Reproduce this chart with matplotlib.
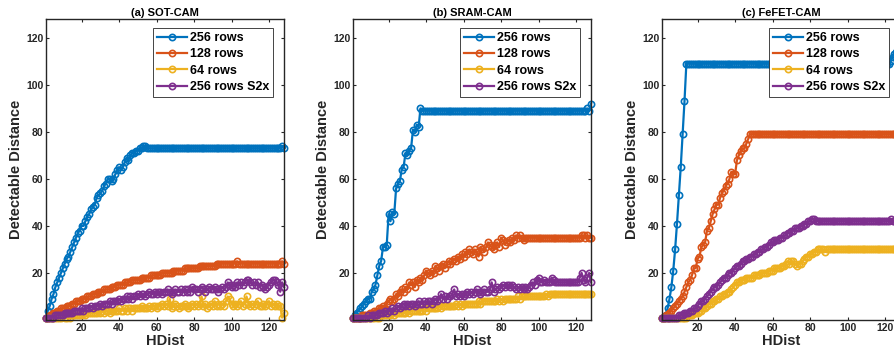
import matplotlib
matplotlib.use('Agg')
import matplotlib.pyplot as plt

# ---------------- data ----------------
hdist = list(range(1, 129))
series_labels = ['256 rows', '128 rows', '64 rows', '256 rows S2x']
panel_titles = ['(a) SOT-CAM', '(b) SRAM-CAM', '(c) FeFET-CAM']
x_ticks = [20, 40, 60, 80, 100, 120]
y_ticks = [20, 40, 60, 80, 100, 120]

# (a) SOT-CAM
sot_256 = [1, 4, 6, 9, 11, 14, 16, 18, 20, 22, 24, 26, 27, 29, 31, 33,
           35, 37, 38, 40, 40, 42, 44, 45, 47, 48, 49, 52, 53, 54, 55, 57,
           58, 60, 60, 59, 60, 62, 64, 65, 64, 65, 67, 69, 68, 70, 71, 71,
           72, 72, 73, 73, 74, 74, 73, 73, 73, 73, 73, 73, 73, 73, 73, 73,
           73, 73, 73, 73, 73, 73, 73, 73, 73, 73, 73, 73, 73, 73, 73, 73,
           73, 73, 73, 73, 73, 73, 73, 73, 73, 73, 73, 73, 73, 73, 73, 73,
           73, 73, 73, 73, 73, 73, 73, 73, 73, 73, 73, 73, 73, 73, 73, 73,
           73, 73, 73, 73, 73, 73, 73, 73, 73, 73, 73, 73, 73, 73, 74, 73]
sot_128 = [1, 1, 2, 2, 3, 3, 4, 4, 5, 5, 5, 6, 6, 6, 7, 7,
           8, 8, 8, 9, 9, 9, 10, 10, 10, 11, 11, 11, 12, 12, 12, 13,
           13, 13, 13, 14, 14, 14, 15, 15, 15, 15, 16, 16, 16, 16, 17, 17,
           17, 17, 17, 18, 18, 18, 18, 18, 19, 19, 19, 19, 19, 19, 20, 20,
           20, 20, 20, 20, 21, 21, 21, 21, 21, 21, 22, 22, 22, 22, 22, 22,
           22, 22, 23, 23, 23, 23, 23, 23, 23, 23, 23, 24, 24, 24, 24, 24,
           24, 24, 24, 24, 24, 24, 25, 24, 24, 24, 24, 24, 24, 24, 24, 24,
           24, 24, 24, 24, 24, 24, 24, 24, 24, 24, 24, 24, 24, 24, 25, 24]
sot_64 = [1, 1, 1, 1, 1, 1, 1, 1, 1, 2, 1, 1, 2, 1, 2, 2,
          2, 2, 2, 2, 3, 2, 3, 3, 3, 3, 3, 3, 4, 3, 4, 3,
          4, 4, 3, 4, 4, 4, 4, 5, 4, 4, 5, 4, 5, 5, 4, 5,
          5, 5, 5, 6, 5, 5, 5, 6, 5, 6, 6, 5, 6, 6, 7, 6,
          7, 6, 9, 5, 6, 7, 6, 5, 6, 6, 7, 6, 5, 6, 7, 6,
          7, 6, 7, 10, 6, 7, 5, 6, 7, 6, 8, 6, 7, 6, 7, 6,
          8, 10, 9, 7, 6, 7, 6, 7, 8, 6, 7, 10, 7, 6, 7, 6,
          7, 8, 6, 6, 7, 6, 7, 8, 6, 7, 6, 7, 6, 6, 1, 3]
sot_s2x = [1, 1, 1, 1, 1, 2, 2, 2, 2, 2, 3, 3, 3, 3, 3, 4,
           4, 4, 4, 5, 4, 5, 5, 5, 6, 5, 6, 6, 6, 7, 6, 7,
           7, 7, 8, 7, 8, 8, 8, 9, 8, 9, 9, 10, 9, 10, 9, 10,
           10, 11, 10, 11, 11, 10, 11, 12, 11, 11, 12, 11, 12, 12, 11, 12,
           12, 13, 12, 11, 12, 13, 12, 12, 13, 12, 13, 12, 13, 12, 14, 13,
           13, 12, 13, 14, 13, 12, 13, 14, 13, 13, 14, 13, 12, 13, 14, 13,
           14, 16, 15, 14, 15, 14, 16, 15, 16, 15, 16, 17, 17, 16, 15, 16,
           15, 16, 14, 15, 14, 13, 14, 15, 16, 17, 17, 16, 15, 12, 16, 14]

# (b) SRAM-CAM
sram_256 = [1, 2, 3, 4, 5, 6, 7, 8, 9, 9, 12, 13, 15, 19, 23, 25,
            31, 31, 32, 45, 42, 46, 45, 56, 58, 59, 64, 65, 71, 70, 72, 73,
            81, 80, 83, 82, 90, 89, 89, 89, 89, 89, 89, 89, 89, 89, 89, 89,
            89, 89, 89, 89, 89, 89, 89, 89, 89, 89, 89, 89, 89, 89, 89, 89,
            89, 89, 89, 89, 89, 89, 89, 89, 89, 89, 89, 89, 89, 89, 89, 89,
            89, 89, 89, 89, 89, 89, 89, 89, 89, 89, 89, 89, 89, 89, 89, 89,
            89, 89, 89, 89, 89, 89, 89, 89, 89, 89, 89, 89, 89, 89, 89, 89,
            89, 89, 89, 89, 89, 89, 89, 89, 89, 89, 89, 89, 89, 90, 89, 92]
sram_128 = [1, 1, 1, 1, 1, 2, 2, 2, 2, 3, 3, 4, 3, 4, 5, 5,
            6, 5, 7, 8, 9, 8, 9, 11, 10, 12, 13, 12, 14, 13, 16, 15,
            16, 14, 17, 16, 18, 17, 19, 21, 20, 19, 21, 20, 23, 22, 21, 23,
            24, 22, 24, 25, 24, 25, 26, 25, 27, 26, 28, 27, 29, 28, 30, 29,
            28, 30, 29, 27, 31, 30, 29, 31, 33, 32, 31, 30, 32, 33, 31, 35,
            34, 32, 33, 34, 33, 35, 34, 36, 35, 36, 35, 34, 35, 35, 35, 35,
            35, 35, 35, 35, 35, 35, 35, 35, 35, 35, 35, 35, 35, 35, 35, 35,
            35, 35, 35, 35, 35, 35, 35, 35, 35, 35, 36, 36, 35, 36, 35, 35]
sram_64 = [1, 1, 1, 1, 1, 1, 1, 1, 1, 1, 1, 1, 2, 1, 1, 2,
           2, 2, 2, 2, 2, 3, 2, 3, 3, 3, 3, 3, 3, 4, 3, 4,
           4, 4, 4, 4, 4, 4, 5, 4, 5, 5, 5, 5, 5, 5, 6, 5,
           6, 6, 6, 6, 6, 6, 6, 7, 6, 7, 6, 7, 7, 7, 7, 7,
           7, 7, 7, 8, 7, 8, 8, 8, 8, 8, 8, 8, 8, 9, 8, 9,
           8, 9, 9, 9, 9, 9, 9, 9, 10, 9, 10, 10, 10, 10, 10, 10,
           10, 10, 10, 10, 10, 10, 10, 11, 10, 11, 11, 11, 11, 11, 11, 11,
           11, 11, 11, 11, 11, 11, 11, 11, 11, 11, 11, 11, 11, 11, 11, 11]
sram_s2x = [1, 1, 1, 1, 1, 1, 1, 1, 2, 1, 2, 2, 2, 2, 3, 3,
            3, 4, 3, 4, 4, 5, 4, 5, 6, 5, 6, 7, 6, 7, 6, 7,
            7, 6, 7, 8, 7, 7, 8, 7, 8, 8, 7, 8, 9, 8, 9, 11,
            9, 10, 9, 10, 10, 11, 13, 10, 11, 10, 11, 10, 11, 12, 11, 12,
            11, 12, 13, 12, 11, 12, 13, 12, 12, 13, 16, 12, 13, 14, 13, 14,
            15, 14, 15, 15, 14, 15, 14, 13, 14, 13, 14, 13, 14, 13, 14, 15,
            16, 15, 17, 18, 16, 16, 17, 16, 16, 16, 18, 17, 16, 16, 16, 16,
            16, 16, 16, 16, 16, 16, 16, 16, 16, 18, 20, 17, 16, 18, 20, 16]

# (c) FeFET-CAM
fefet_256 = [1, 1, 2, 5, 9, 14, 21, 30, 41, 53, 65, 79, 93, 109, 109, 109,
             109, 109, 109, 109, 109, 109, 109, 109, 109, 109, 109, 109, 109, 109, 109, 109,
             109, 109, 109, 109, 109, 109, 109, 109, 109, 109, 109, 109, 109, 109, 109, 109,
             109, 109, 109, 109, 109, 109, 109, 109, 109, 109, 109, 109, 109, 109, 109, 109,
             109, 109, 109, 109, 109, 109, 109, 109, 109, 109, 109, 109, 109, 109, 109, 109,
             109, 109, 109, 109, 109, 109, 109, 109, 109, 109, 109, 109, 109, 109, 109, 109,
             109, 109, 109, 109, 109, 109, 109, 109, 109, 109, 109, 109, 109, 109, 109, 109,
             109, 109, 109, 109, 109, 109, 109, 109, 109, 109, 110, 112, 113, 114, 115, 116]
fefet_128 = [1, 1, 2, 2, 3, 4, 5, 6, 7, 8, 9, 10, 12, 14, 16, 17,
             19, 22, 22, 26, 27, 31, 32, 33, 38, 39, 42, 45, 47, 49, 49, 52,
             54, 55, 57, 58, 60, 63, 62, 62, 68, 70, 72, 73, 73, 75, 77, 79,
             79, 79, 79, 79, 79, 79, 79, 79, 79, 79, 79, 79, 79, 79, 79, 79,
             79, 79, 79, 79, 79, 79, 79, 79, 79, 79, 79, 79, 79, 79, 79, 79,
             79, 79, 79, 79, 79, 79, 79, 79, 79, 79, 79, 79, 79, 79, 79, 79,
             79, 79, 79, 79, 79, 79, 79, 79, 79, 79, 79, 79, 79, 79, 79, 79,
             79, 79, 79, 79, 79, 79, 79, 79, 79, 79, 79, 79, 79, 79, 79, 79]
fefet_64 = [1, 1, 1, 1, 1, 1, 1, 1, 1, 1, 1, 1, 1, 1, 2, 2,
            2, 3, 3, 3, 4, 4, 5, 5, 6, 7, 7, 8, 8, 9, 9, 10,
            10, 11, 11, 12, 12, 13, 14, 15, 16, 16, 17, 17, 17, 18, 18, 18,
            18, 19, 19, 19, 19, 20, 20, 20, 20, 21, 21, 21, 22, 22, 22, 22,
            23, 23, 24, 25, 24, 25, 25, 24, 23, 24, 24, 25, 26, 27, 27, 28,
            28, 29, 29, 30, 30, 30, 30, 29, 30, 30, 30, 30, 30, 30, 30, 30,
            30, 30, 30, 30, 30, 30, 30, 30, 30, 30, 30, 30, 30, 30, 30, 30,
            30, 30, 30, 30, 30, 30, 30, 30, 30, 30, 30, 30, 30, 30, 30, 30]
fefet_s2x = [1, 1, 1, 1, 1, 1, 1, 1, 1, 2, 2, 2, 3, 3, 3, 4,
             4, 5, 5, 6, 7, 8, 8, 9, 10, 11, 12, 13, 14, 14, 15, 16,
             17, 18, 18, 19, 20, 20, 21, 22, 23, 23, 24, 25, 25, 26, 26, 27,
             27, 28, 28, 29, 29, 30, 30, 31, 31, 32, 33, 33, 34, 34, 34, 35,
             35, 36, 36, 37, 37, 38, 38, 39, 39, 39, 40, 40, 41, 41, 42, 42,
             43, 43, 42, 42, 42, 42, 42, 42, 42, 42, 42, 42, 42, 42, 42, 42,
             42, 42, 42, 42, 42, 42, 42, 42, 42, 42, 42, 42, 42, 42, 42, 42,
             42, 42, 42, 42, 42, 42, 42, 42, 42, 42, 43, 42, 42, 42, 42, 42]

panels = [
    [sot_256, sot_128, sot_64, sot_s2x],
    [sram_256, sram_128, sram_64, sram_s2x],
    [fefet_256, fefet_128, fefet_64, fefet_s2x],
]

# ---------------- style ----------------
colors = ['#0072BD', '#D95319', '#EDB120', '#7E2F8E']
axis_color = '#262626'
plt.rcParams['font.family'] = ['Liberation Sans', 'DejaVu Sans']

W, H = 894, 356
fig = plt.figure(figsize=(W / 100, H / 100), dpi=100)
lefts_px = [46, 353, 662]
ax_w_px, ax_top_px, ax_bot_px = 238, 19, 320

for left, title, data in zip(lefts_px, panel_titles, panels):
    ax = fig.add_axes([left / W, 1 - ax_bot_px / H, ax_w_px / W, (ax_bot_px - ax_top_px) / H])
    for series, col, lab in zip(data, colors, series_labels):
        ax.plot(hdist, series, '-o', color=col, lw=1.6, ms=4.5, mfc='none',
                mew=1.2, label=lab, clip_on=False)
    ax.set_xlim(1, 128)
    ax.set_ylim(0, 128)
    ax.set_xticks(x_ticks)
    ax.set_yticks(y_ticks)
    ax.tick_params(direction='in', top=True, right=True, length=2.5, width=0.8,
                   labelsize=7.5, pad=2, colors=axis_color)
    for lbl in ax.get_xticklabels() + ax.get_yticklabels():
        lbl.set_fontweight('bold')
    for sp in ax.spines.values():
        sp.set_linewidth(1.0)
        sp.set_color(axis_color)
    ax.set_xlabel('HDist', fontsize=10.5, fontweight='bold', labelpad=1, color=axis_color)
    ax.set_ylabel('Detectable Distance', fontsize=10.5, fontweight='bold', labelpad=2, color=axis_color)
    ax.set_title(title, fontsize=8, fontweight='bold', pad=2, color='black')
    leg = ax.legend(loc='upper right', bbox_to_anchor=(0.955, 0.969), borderaxespad=0,
                    prop={'size': 9, 'weight': 'bold'}, handlelength=2.4, handletextpad=0.25,
                    borderpad=0.3, labelspacing=0.35, fancybox=False, framealpha=1,
                    edgecolor=axis_color)
    leg.get_frame().set_linewidth(0.6)

fig.savefig('out.png', dpi=100)
